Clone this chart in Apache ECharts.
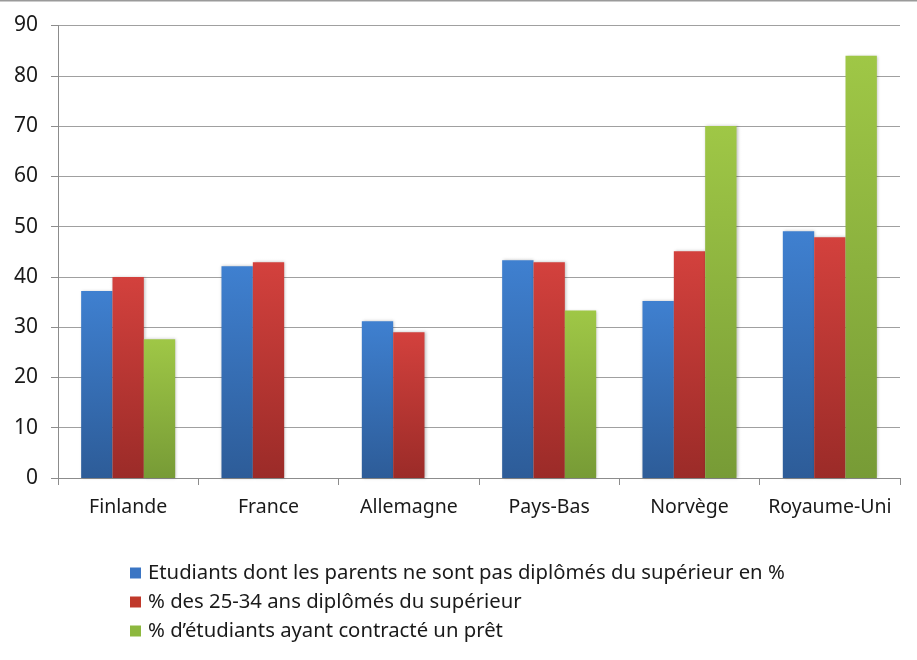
<!DOCTYPE html>
<html>
<head>
<meta charset="utf-8">
<script src="https://cdn.jsdelivr.net/npm/echarts@6/dist/echarts.min.js"></script>
<style>
html,body{margin:0;padding:0;background:#fff;}
#c{width:917px;height:660px;}
</style>
</head>
<body>
<div id="c"></div>
<script>
const categories = ['Finlande', 'France', 'Allemagne', 'Pays-Bas', 'Norvège', 'Royaume-Uni'];
const seriesNames = [
  'Etudiants dont les parents ne sont pas diplômés du supérieur en %',
  '% des 25-34 ans diplômés du supérieur',
  '% d\u2019étudiants ayant contracté un prêt'
];
const parentsNonDiplomes = [37.2, 42.1, 31.2, 43.3, 35.2, 49.1];
const diplomes2534 = [40.0, 42.9, 29.0, 42.9, 45.1, 47.9];
const pretEtudiants = [27.6, null, null, 33.3, 70.0, 84.0];
const yTicks = { min: 0, max: 90, interval: 10 };

const FONT = 'Noto Sans';
function grad(top, bottom) {
  return new echarts.graphic.LinearGradient(0, 0, 0, 1, [
    { offset: 0, color: top }, { offset: 1, color: bottom }
  ]);
}
const colors = [
  grad('#3f80d0', '#2d5c98'),
  grad('#d3413d', '#9b2b28'),
  grad('#9fc746', '#779b36')
];
const legendColors = ['#3a75c4', '#c0392b', '#8db83f'];
const dataSets = [parentsNonDiplomes, diplomes2534, pretEtudiants];

const chart = echarts.init(document.getElementById('c'), null, { renderer: 'canvas' });
chart.setOption({
  animation: false,
  backgroundColor: '#fff',
  grid: { left: 58, right: 17, top: 25.5, bottom: 182, containLabel: false },
  graphic: [{
    type: 'line', shape: { x1: 0, y1: 0.5, x2: 917, y2: 0.5 },
    style: { stroke: '#9a9a9a', lineWidth: 2 }
  }],
  legend: {
    orient: 'vertical', left: 125, top: 558,
    itemWidth: 11, itemHeight: 11, itemGap: 9,
    icon: 'rect',
    textStyle: { fontFamily: FONT, fontSize: 20.3, color: '#1a1a1a', padding: [0, 0, 0, 2] },
    data: seriesNames.map((n, i) => ({ name: n, itemStyle: { color: legendColors[i] } }))
  },
  xAxis: {
    type: 'category', data: categories,
    axisLine: { lineStyle: { color: '#8c8c8c', width: 1 } },
    axisTick: { show: true, length: 7, lineStyle: { color: '#8c8c8c' } },
    axisLabel: { interval: 0, fontFamily: FONT, fontSize: 19.5, color: '#1a1a1a', margin: 19 }
  },
  yAxis: {
    type: 'value', min: yTicks.min, max: yTicks.max, interval: yTicks.interval,
    axisLine: { show: true, lineStyle: { color: '#8c8c8c' } },
    axisTick: { show: true, length: 7, lineStyle: { color: '#8c8c8c' } },
    splitLine: { lineStyle: { color: '#a0a0a0', width: 1 } },
    axisLabel: { fontFamily: FONT, fontSize: 21, color: '#1a1a1a', margin: 20 }
  },
  series: dataSets.map((d, i) => ({
    name: seriesNames[i], type: 'bar', data: d,
    barGap: '0%', barCategoryGap: '33%',
    itemStyle: { color: colors[i], shadowBlur: 3, shadowColor: 'rgba(0,0,0,0.25)', shadowOffsetX: 1, shadowOffsetY: 0 }
  }))
});
</script>
</body>
</html>
